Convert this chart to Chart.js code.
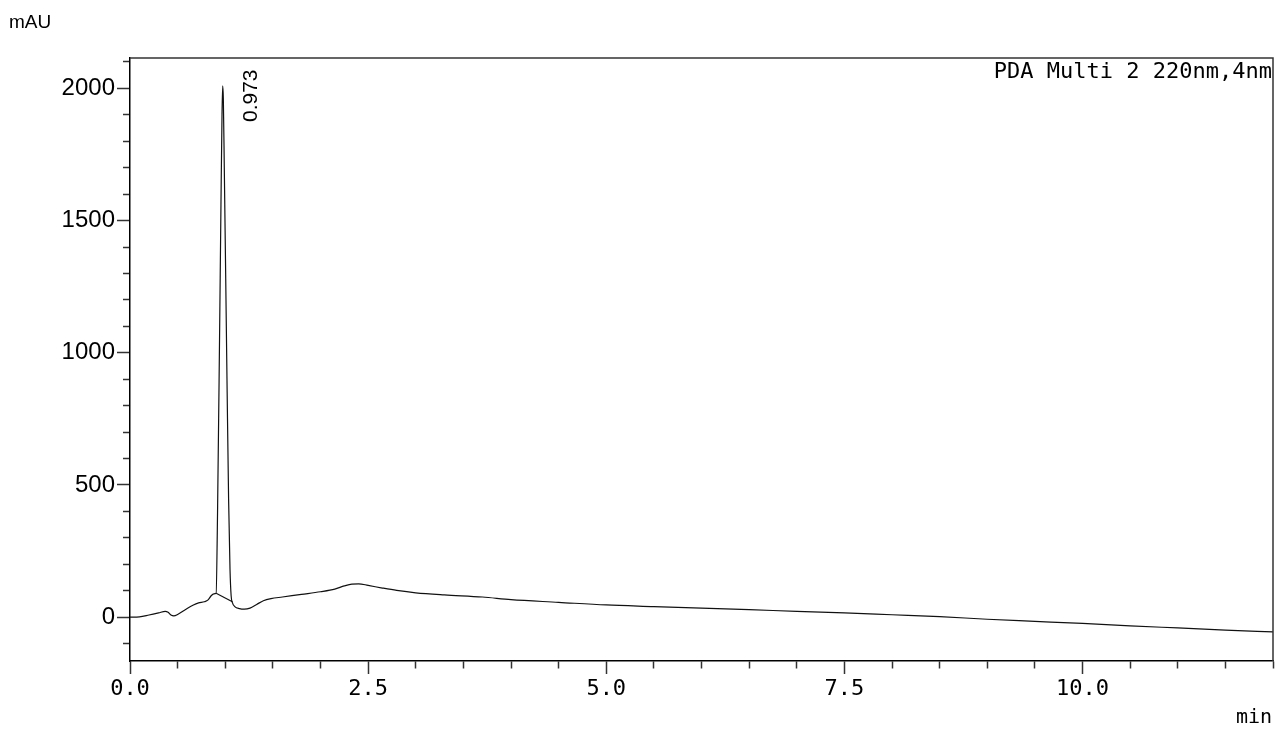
<!DOCTYPE html>
<html>
<head>
<meta charset="utf-8">
<script src="https://cdn.jsdelivr.net/npm/chart.js@4.4.1/dist/chart.umd.min.js"></script>
<style>
  html, body { margin: 0; padding: 0; background: #fff; }
  #wrap { width: 1285px; height: 729px; position: relative; }
</style>
</head>
<body>
<div id="wrap"><canvas id="c"></canvas></div>
<script>
// Retention time (min)
const timeMin = [
  0.00, 0.10, 0.20, 0.30, 0.37, 0.40, 0.43, 0.46, 0.50, 0.58, 0.66, 0.72, 0.78, 0.82, 0.85, 0.88,
  0.904, 0.92, 0.94, 0.955, 0.966, 0.973, 0.98, 0.99, 1.005, 1.02, 1.035, 1.05, 1.062, 1.075,
  1.10, 1.15, 1.20, 1.26, 1.33, 1.40, 1.48, 1.60, 1.80, 2.00, 2.15, 2.25, 2.33, 2.40, 2.50, 2.65, 2.80,
  3.00, 3.30, 3.70, 4.00, 4.50, 5.00, 5.50, 6.00, 6.50, 7.00, 7.50, 8.00, 8.50, 9.00, 9.50,
  10.00, 10.50, 11.00, 11.50, 12.00
];
// Absorbance (mAU)
const absorbance = [
  0, 1, 8, 16, 22, 18, 8, 5, 10, 28, 45, 54, 58, 65, 80, 88,
  90, 420, 1050, 1560, 1900, 2010, 1960, 1700, 1280, 850, 450, 180, 80, 55,
  40, 32, 30, 34, 48, 62, 70, 76, 86, 96, 106, 118, 125, 126, 120, 110, 101,
  92, 84, 76, 66, 56, 46, 40, 34, 28, 22, 16, 9, 2, -8, -16,
  -24, -33, -41, -49, -56
];
// Integration baseline under the peak
const baselineTime = [0.904, 1.075];
const baselineAbs = [90, 58];

const peakTime = 0.973;
const peakHeight = 2010;
const peakLabel = '0.973';
const channelLabel = 'PDA Multi 2 220nm,4nm';
const yUnit = 'mAU';
const xUnit = 'min';

const xMin = 0, xMax = 12, xStep = 0.5, xLabelEvery = 2.5;
const yMin = -166, yMax = 2115, yStep = 100, yLabelEvery = 500;

const tracePts = timeMin.map((t, i) => ({ x: t, y: absorbance[i] }));
const basePts = baselineTime.map((t, i) => ({ x: t, y: baselineAbs[i] }));

const annot = {
  id: 'annot',
  afterDraw(chart) {
    const ctx = chart.ctx;
    const a = chart.chartArea;
    const xs = chart.scales.x, ys = chart.scales.y;
    ctx.save();
    // top / right frame
    ctx.strokeStyle = '#333';
    ctx.lineWidth = 1.5;
    ctx.beginPath();
    ctx.moveTo(a.left, a.top);
    ctx.lineTo(a.right, a.top);
    ctx.lineTo(a.right, a.bottom);
    ctx.stroke();
    ctx.fillStyle = '#000';
    // unit labels
    ctx.font = '19px "Liberation Sans", Arial, sans-serif';
    ctx.textAlign = 'left';
    ctx.textBaseline = 'alphabetic';
    ctx.fillText(yUnit, 9, 28);
    ctx.font = '20px "DejaVu Sans Mono", monospace';
    ctx.textAlign = 'right';
    ctx.fillText(xUnit, a.right - 1, 723);
    // channel label
    ctx.font = '22px "DejaVu Sans Mono", monospace';
    ctx.textAlign = 'right';
    ctx.fillText(channelLabel, a.right - 1, 78);
    // peak label (rotated)
    const px = xs.getPixelForValue(peakTime);
    const py = ys.getPixelForValue(peakHeight);
    ctx.translate(px + 34, py + 10);
    ctx.rotate(-Math.PI / 2);
    ctx.font = '21px "Liberation Sans", Arial, sans-serif';
    ctx.textAlign = 'center';
    ctx.fillText(peakLabel, 0, 0);
    ctx.restore();
  }
};

new Chart(document.getElementById('c'), {
  type: 'line',
  data: {
    datasets: [
      { data: tracePts, borderColor: '#111', borderWidth: 1.2, pointRadius: 0, fill: false,
        cubicInterpolationMode: 'monotone' },
      { data: basePts, borderColor: '#111', borderWidth: 1.2, pointRadius: 0, fill: false }
    ]
  },
  options: {
    responsive: true,
    maintainAspectRatio: false,
    animation: false,
    layout: { padding: { left: 0, right: 12, top: 58, bottom: 0 } },
    plugins: { legend: { display: false }, tooltip: { enabled: false }, title: { display: false } },
    scales: {
      x: {
        type: 'linear', min: xMin, max: xMax,
        afterFit(s) { s.height = 68; },
        border: { display: true, color: '#000', width: 1.5 },
        grid: {
          display: true, drawOnChartArea: false, drawTicks: true, tickLength: 13,
          tickColor: '#333', tickWidth: 1.5,
          tickBorderDash: (ctx) => (ctx.tick && Math.abs(ctx.tick.value % xLabelEvery) < 1e-9) ? [] : [7, 13]
        },
        ticks: {
          stepSize: xStep, autoSkip: false, maxRotation: 0, minRotation: 0, padding: 2,
          includeBounds: false,
          color: '#000',
          font: { family: '"DejaVu Sans Mono", monospace', size: 22 },
          callback: (v) => (Math.abs(v % xLabelEvery) < 1e-9) ? Number(v).toFixed(1) : ''
        }
      },
      y: {
        type: 'linear', min: yMin, max: yMax,
        afterFit(s) { s.width = 130; },
        border: { display: true, color: '#000', width: 1.5 },
        grid: {
          display: true, drawOnChartArea: false, drawTicks: true, tickLength: 13,
          tickColor: '#333', tickWidth: 1.5,
          tickBorderDash: (ctx) => (ctx.tick && Math.abs(ctx.tick.value % yLabelEvery) < 1e-9) ? [] : [7, 13],
          tickBorderDashOffset: (ctx) => (ctx.tick && Math.abs(ctx.tick.value % yLabelEvery) < 1e-9) ? 0 : 14
        },
        ticks: {
          stepSize: yStep, autoSkip: false, padding: 2, includeBounds: false,
          color: '#000',
          font: { family: '"Liberation Sans", Arial, sans-serif', size: 24 },
          callback: (v) => (Math.abs(v % yLabelEvery) < 1e-9) ? String(v) : ''
        }
      }
    }
  },
  plugins: [annot]
});
</script>
</body>
</html>
